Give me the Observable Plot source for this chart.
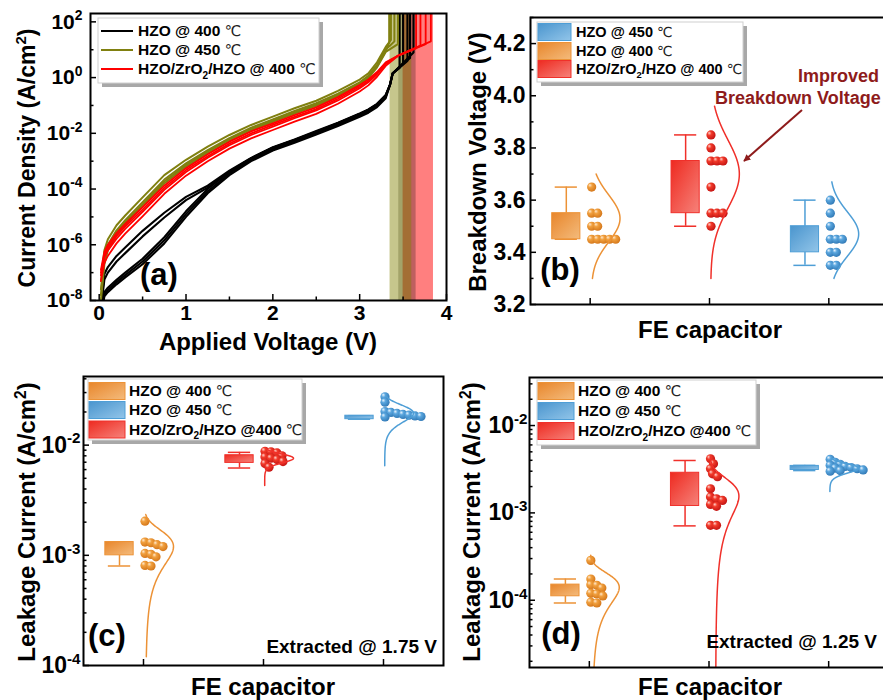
<!DOCTYPE html>
<html><head><meta charset="utf-8">
<script src="https://cdn.jsdelivr.net/npm/d3@7"></script>
<script src="https://cdn.jsdelivr.net/npm/@observablehq/plot@0.6"></script>
<style>
html,body{margin:0;padding:0;background:#fff;overflow:hidden}
#fig{position:relative;width:883px;height:700px;overflow:hidden;background:#fff}
#fig > svg{position:absolute}
</style></head><body><div id="fig"></div>
<script>
const FONT = '"Liberation Sans", Arial, Helvetica, sans-serif';

// ================= DATA =================
// (a) J–V curves: log10(J [A/cm²]) on a common voltage grid
const voltGrid = [0.02, 0.06, 0.1, 0.2, 0.3, 0.5, 0.75, 1.0, 1.25, 1.5, 1.75, 2.0, 2.25, 2.5, 2.75, 3.0, 3.1, 3.2, 3.3];
const hzo400LogJ = [
  [-8.6, -7.85, -7.7, -7.42, -7.17, -6.7, -5.95, -5.0, -4.15, -3.5, -3.0, -2.62, -2.34, -2.04, -1.74, -1.41, -1.26, -1.06, -0.74],
  [-8.55, -7.78, -7.62, -7.34, -7.09, -6.6, -5.84, -4.9, -4.08, -3.44, -2.95, -2.57, -2.29, -1.99, -1.69, -1.36, -1.21, -1.01, -0.69],
  [-8.5, -7.7, -7.54, -7.26, -7.0, -6.5, -5.73, -4.8, -4.0, -3.38, -2.9, -2.52, -2.24, -1.94, -1.64, -1.31, -1.16, -0.96, -0.64],
  [-8.3, -7.25, -7.0, -6.6, -6.3, -5.7, -5.02, -4.4, -3.95, -3.38, -2.9, -2.52, -2.24, -1.94, -1.64, -1.31, -1.16, -0.96, -0.64],
  [-8.2, -7.05, -6.8, -6.4, -6.1, -5.5, -4.85, -4.28, -3.88, -3.34, -2.88, -2.5, -2.22, -1.92, -1.62, -1.29, -1.14, -0.94, -0.62]
];
const hzo400TailV = [3.35, 3.38];
const hzo400TailLogJ = [-0.25, 0.15];
const hzo400BdV = [3.62, 3.58, 3.46, 3.55, 3.50];
const hzo400BdLogJ = [0.9, 0.7, 0.35, 0.6, 0.5];

const hzo450LogJ = [
  [-7.3, -6.2, -5.8, -5.3, -4.95, -4.3, -3.5, -2.95, -2.48, -2.06, -1.7, -1.4, -1.1, -0.83, -0.48, -0.07, 0.15, 0.55, 1.1],
  [-7.6, -6.45, -6.0, -5.48, -5.12, -4.47, -3.66, -3.08, -2.6, -2.17, -1.8, -1.5, -1.2, -0.92, -0.58, -0.17, 0.06, 0.45, 1.0],
  [-8.0, -6.7, -6.2, -5.65, -5.28, -4.62, -3.8, -3.2, -2.72, -2.28, -1.9, -1.59, -1.29, -1.01, -0.67, -0.26, -0.02, 0.37, 0.92],
  [-7.8, -6.55, -6.1, -5.56, -5.2, -4.55, -3.73, -3.14, -2.66, -2.22, -1.85, -1.55, -1.25, -0.97, -0.63, -0.22, 0.02, 0.41, 0.96]
];
const hzo450TailV = [];
const hzo450TailLogJ = [];
const hzo450BdV = [3.36, 3.40, 3.44, 3.34];
const hzo450BdLogJ = [1.35, 1.3, 1.2, 1.25];

const slLogJ = [
  [-6.9, -6.25, -6.0, -5.58, -5.25, -4.65, -3.88, -3.25, -2.75, -2.3, -1.93, -1.64, -1.35, -1.07, -0.7, -0.27, -0.07, 0.2, 0.55],
  [-7.1, -6.45, -6.2, -5.78, -5.43, -4.82, -4.03, -3.39, -2.88, -2.43, -2.06, -1.76, -1.46, -1.18, -0.82, -0.38, -0.17, 0.12, 0.48],
  [-7.3, -6.65, -6.4, -5.95, -5.6, -4.98, -4.17, -3.52, -3.0, -2.55, -2.18, -1.88, -1.58, -1.3, -0.94, -0.5, -0.28, 0.03, 0.42],
  [-7.0, -6.35, -6.1, -5.68, -5.34, -4.74, -3.96, -3.32, -2.82, -2.37, -2.0, -1.7, -1.41, -1.13, -0.76, -0.33, -0.12, 0.16, 0.51]
];
const slTailV = [3.45];
const slTailLogJ = [0.8];
const slBdV = [3.82, 3.76, 3.65, 3.70];
const slBdLogJ = [1.3, 1.2, 1.05, 1.15];

const ivXTicks = [0, 1, 2, 3, 4];
const ivXMinor = [0.5, 1.5, 2.5, 3.5];
const ivYTicks = [1e-8, 1e-6, 1e-4, 1e-2, 1, 1e2];
const ivYMinor = [1e-7, 1e-5, 1e-3, 1e-1, 1e1];

// (b) breakdown voltage (V) per device
const bdHZO400 = [3.65, 3.55, 3.55, 3.50, 3.50, 3.45, 3.45, 3.45, 3.45, 3.45];
const bdSL400  = [3.85, 3.80, 3.75, 3.75, 3.75, 3.65, 3.55, 3.55, 3.55, 3.50];
const bdHZO450 = [3.60, 3.55, 3.50, 3.45, 3.45, 3.45, 3.40, 3.40, 3.35, 3.35];
const bdQ1 = [3.45, 3.55, 3.40], bdQ3 = [3.55, 3.75, 3.50], bdLo = [3.45, 3.50, 3.35], bdHi = [3.65, 3.85, 3.60];
const bdFitMean = [3.53, 3.70, 3.47], bdFitSd = [0.09, 0.13, 0.085];
const bdFitFrom = [3.30, 3.30, 3.30], bdFitTo = [3.70, 3.96, 3.67];
const bdYTicks = [3.2, 3.4, 3.6, 3.8, 4.0, 4.2];
const bdYMinor = [3.3, 3.5, 3.7, 3.9, 4.1, 4.3];

// (c) leakage current @ 1.75 V (A/cm²)
const lk175HZO400 = [2.04e-3, 1.32e-3, 1.30e-3, 1.25e-3, 1.20e-3, 1.04e-3, 1.02e-3, 0.97e-3, 0.81e-3, 0.80e-3];
const lk175SL400  = [8.8e-3, 8.7e-3, 8.5e-3, 8.0e-3, 7.8e-3, 7.6e-3, 7.4e-3, 7.1e-3, 6.8e-3, 6.3e-3];
const lk175HZO450 = [2.75e-2, 2.45e-2, 2.02e-2, 1.98e-2, 1.94e-2, 1.9e-2, 1.87e-2, 1.84e-2, 1.82e-2, 1.8e-2];
const lk175Q1 = [1.0e-3, 6.9e-3, 1.72e-2], lk175Q3 = [1.32e-3, 8.1e-3, 1.85e-2];
const lk175Lo = [0.8e-3, 6.2e-3, 1.72e-2], lk175Hi = [1.32e-3, 8.6e-3, 1.85e-2];
const lk175FitMean = [1.2e-3, 7.6e-3, 1.95e-2], lk175FitSd = [0.45e-3, 0.7e-3, 0.35e-2];
const lk175FitFrom = [1.2e-4, 4.3e-3, 6.5e-3], lk175FitTo = [2.35e-3, 9.2e-3, 2.8e-2];

// (d) leakage current @ 1.25 V (A/cm²)
const lk125HZO400 = [2.86e-4, 1.75e-4, 1.50e-4, 1.48e-4, 1.38e-4, 1.20e-4, 1.18e-4, 1.12e-4, 0.95e-4, 0.93e-4];
const lk125SL400  = [4.16e-3, 3.65e-3, 3.2e-3, 2.8e-3, 2.6e-3, 1.89e-3, 1.52e-3, 1.45e-3, 1.39e-3, 1.25e-3, 1.19e-3, 0.72e-3, 0.72e-3];
const lk125HZO450 = [4.1e-3, 3.8e-3, 3.6e-3, 3.5e-3, 3.4e-3, 3.3e-3, 3.25e-3, 3.2e-3, 3.1e-3, 3.05e-3, 3.0e-3];
const lk125Q1 = [1.11e-4, 1.2e-3, 3.1e-3], lk125Q3 = [1.51e-4, 2.88e-3, 3.45e-3];
const lk125Lo = [0.93e-4, 0.71e-3, 3.05e-3], lk125Hi = [1.75e-4, 3.98e-3, 3.5e-3];
const lk125FitMean = [1.4e-4, 1.55e-3, 3.25e-3], lk125FitSd = [0.6e-4, 0.85e-3, 0.4e-3];
const lk125FitFrom = [1e-5, 1e-5, 1.76e-3], lk125FitTo = [3.27e-4, 4.4e-3, 4.2e-3];

const lkYTicks = [1e-4, 1e-3, 1e-2];
const lkYMinorC = [2e-4,3e-4,4e-4,5e-4,6e-4,7e-4,8e-4,9e-4,2e-3,3e-3,4e-3,5e-3,6e-3,7e-3,8e-3,9e-3,2e-2,3e-2,4e-2];
const lkYMinorD = [2e-5,3e-5,4e-5,5e-5,6e-5,7e-5,8e-5,9e-5,2e-4,3e-4,4e-4,5e-4,6e-4,7e-4,8e-4,9e-4,2e-3,3e-3,4e-3,5e-3,6e-3,7e-3,8e-3,9e-3,2e-2,3e-2];
const categories = [1, 2, 3];

// ================= STYLE =================
const COL = {
  o: {line: "#EC9236", box: "url(#gBoxO)", ball: "url(#gBallO)"},
  r: {line: "#F0302A", box: "url(#gBoxR)", ball: "url(#gBallR)"},
  b: {line: "#4E9ED6", box: "url(#gBoxB)", ball: "url(#gBallB)"}
};
const TOP_LOG = 2.6;
const fig = document.getElementById("fig");

function supLabels(svg) {
  d3.select(svg).selectAll("text").each(function () {
    const m = /^10\^(-?\d+)$/.exec(this.textContent);
    if (m) {
      const el = d3.select(this); el.text(null);
      el.append("tspan").text("10");
      el.append("tspan").attr("dy", "-0.6em").attr("font-size", "0.66em").text(m[1]);
    }
  });
}
function place(svg, left, top) {
  svg.style.position = "absolute"; svg.style.left = left + "px"; svg.style.top = top + "px";
  supLabels(svg); fig.appendChild(svg);
}
const logFmt = d => "10^" + Math.round(Math.log10(d));

// ================= PANEL (a) =================
const ivGroups = [
  {color: "#000000", width: 2.1, curves: hzo400LogJ, tailV: hzo400TailV, tailLogJ: hzo400TailLogJ, bd: hzo400BdV, bdLogJ: hzo400BdLogJ},
  {color: "#808010", width: 2.0, curves: hzo450LogJ, tailV: hzo450TailV, tailLogJ: hzo450TailLogJ, bd: hzo450BdV, bdLogJ: hzo450BdLogJ},
  {color: "#FF0000", width: 1.8, curves: slLogJ, tailV: slTailV, tailLogJ: slTailLogJ, bd: slBdV, bdLogJ: slBdLogJ}
];
const ivRows = [];
ivGroups.forEach((g, gi) => g.curves.forEach((arr, ci) => {
  const id = gi + "-" + ci;
  arr.forEach((lj, k) => ivRows.push({id, g: gi, V: voltGrid[k], J: 10 ** lj}));
  g.tailV.forEach((v, k) => ivRows.push({id, g: gi, V: v, J: 10 ** g.tailLogJ[k]}));
  ivRows.push({id, g: gi, V: g.bd[ci], J: 10 ** g.bdLogJ[ci]});
  ivRows.push({id, g: gi, V: g.bd[ci], J: 10 ** TOP_LOG});
}));
const bands = [
  {lo: d3.min(bdSL400), hi: d3.max(bdSL400), fill: "#FF0000", op: 0.5},
  {lo: d3.min(bdHZO400), hi: d3.max(bdHZO400), fill: "#000000", op: 0.25},
  {lo: d3.min(bdHZO450), hi: d3.max(bdHZO450), fill: "#808000", op: 0.45}
];
const pa = Plot.plot({
  width: 450, height: 330, marginLeft: 90, marginRight: 4, marginTop: 13, marginBottom: 30,
  style: {background: "transparent", fontFamily: FONT, fontSize: "21px", fontWeight: "bold", color: "#000", overflow: "visible"},
  x: {domain: [-0.1, 4], axis: null},
  y: {type: "log", domain: [1e-8, 10 ** 2.3], axis: null},
  marks: [
    ...bands.map(b => Plot.rect([b], {x1: d => d.lo, x2: d => d.hi, fill: b.fill, fillOpacity: b.op})),
    ...ivGroups.map((g, gi) => Plot.line(ivRows.filter(r => r.g === gi), {x: "V", y: "J", z: "id", stroke: g.color, strokeWidth: g.width, clip: true})),
    Plot.axisX(ivXTicks, {anchor: "bottom", tickSize: -6, tickPadding: 11, strokeWidth: 1.5, label: null}),
    Plot.axisX(ivXMinor, {anchor: "bottom", tickSize: -3.5, tickFormat: () => "", strokeWidth: 1.5, label: null}),
    Plot.axisY(ivYTicks, {anchor: "left", tickSize: -6, tickPadding: 14, tickFormat: logFmt, strokeWidth: 1.5, label: null}),
    Plot.axisY(ivYMinor, {anchor: "left", tickSize: -3.5, tickFormat: () => "", strokeWidth: 1.5, label: null}),
    Plot.frame({stroke: "#000", strokeWidth: 2})
  ]
});
place(pa, 0, 0);

// ================= GROUP PANELS (b,c,d) =================
function swarm(values, yPix, minD) {
  const pts = values.map(v => ({v, py: yPix(v)})).sort((a, b) => a.py - b.py);
  const placed = [];
  for (const p of pts) {
    let k = 0;
    while (placed.some(q => (q.k - k) ** 2 + (q.py - p.py) ** 2 < minD * minD)) k++;
    p.k = k; placed.push(p);
  }
  return pts;
}
function groupPanel(cfg) {
  const {left, top, width, height, mL, mR, mT, mB, yType, yDomain, yTicks, yMinor, fmt, groups, fontSize, tickPad, minD} = cfg;
  const fw = width - mL - mR, fh = height - mT - mB;
  const yPix = (yType === "log" ? d3.scaleLog() : d3.scaleLinear()).domain(yDomain).range([fh, 0]);
  const ppu = fw / 3;
  const marks = [];
  groups.forEach((g, i) => {
    const c = categories[i], st = COL[g.key], bx = c - 0.2;
    if (g.lo < g.q1) marks.push(Plot.ruleX([g], {x: () => bx, y1: () => g.lo, y2: () => g.q1, stroke: st.line, strokeWidth: 1.5}));
    if (g.hi > g.q3) marks.push(Plot.ruleX([g], {x: () => bx, y1: () => g.q3, y2: () => g.hi, stroke: st.line, strokeWidth: 1.5}));
    marks.push(Plot.ruleY([g.lo, g.hi], {y: d => d, x1: () => bx - 0.093, x2: () => bx + 0.093, stroke: st.line, strokeWidth: 1.5}));
    marks.push(Plot.rect([g], {x1: () => bx - 0.118, x2: () => bx + 0.118, y1: () => g.q1, y2: () => g.q3, fill: st.box, stroke: st.line, strokeWidth: 1}));
    const sw = swarm(g.values, yPix, minD);
    marks.push(Plot.dot(sw, {x: d => c + (1.5 + d.k) / ppu, y: "v", r: 4.6, fill: st.ball}));
    const n = 300, pts = [];
    const a = yType === "log" ? Math.log10(g.from) : g.from, b = yType === "log" ? Math.log10(g.to) : g.to;
    for (let j = 0; j <= n; j++) {
      const t = a + (b - a) * j / n, y = yType === "log" ? 10 ** t : t;
      pts.push({x: c + 0.01 + 0.24 * Math.exp(-0.5 * ((y - g.mean) / g.sd) ** 2), y});
    }
    marks.push(Plot.line(pts, {x: "x", y: "y", stroke: st.line, strokeWidth: 1.5, clip: true}));
  });
  const p = Plot.plot({
    width, height, marginLeft: mL, marginRight: mR, marginTop: mT, marginBottom: mB,
    style: {background: "transparent", fontFamily: FONT, fontSize: fontSize + "px", fontWeight: "bold", color: "#000", overflow: "visible"},
    x: {domain: [0.5, 3.5], axis: null},
    y: {type: yType, domain: yDomain, axis: null},
    marks: [
      ...marks,
      Plot.axisX(categories, {anchor: "bottom", tickSize: -6, tickFormat: () => "", strokeWidth: 1.5, label: null}),
      Plot.axisY(yTicks, {anchor: "left", tickSize: -6, tickPadding: tickPad, tickFormat: fmt, strokeWidth: 1.5, label: null}),
      Plot.axisY(yMinor, {anchor: "left", tickSize: -3.5, tickFormat: () => "", strokeWidth: 1.5, label: null}),
      Plot.frame({stroke: "#000", strokeWidth: 2})
    ]
  });
  place(p, left, top);
}
function mkGroups(keys, vals, q1, q3, lo, hi, mean, sd, from, to) {
  return keys.map((key, i) => ({key, values: vals[i], q1: q1[i], q3: q3[i], lo: lo[i], hi: hi[i], mean: mean[i], sd: sd[i], from: from[i], to: to[i]}));
}
groupPanel({left: 440, top: 0, width: 450, height: 344, mL: 90, mR: 2, mT: 17, mB: 40, minD: 6,
  yType: "linear", yDomain: [3.2, 4.3], yTicks: bdYTicks, yMinor: bdYMinor, fmt: d => d.toFixed(1), fontSize: 23, tickPad: 11,
  groups: mkGroups(["o", "r", "b"], [bdHZO400, bdSL400, bdHZO450], bdQ1, bdQ3, bdLo, bdHi, bdFitMean, bdFitSd, bdFitFrom, bdFitTo)});
groupPanel({left: 0, top: 350, width: 447, height: 345, mL: 83, mR: 4, mT: 26, mB: 30, minD: 5.4,
  yType: "log", yDomain: [1e-4, 10 ** -1.377], yTicks: lkYTicks, yMinor: lkYMinorC, fmt: logFmt, fontSize: 23, tickPad: 9,
  groups: mkGroups(["o", "r", "b"], [lk175HZO400, lk175SL400, lk175HZO450], lk175Q1, lk175Q3, lk175Lo, lk175Hi, lk175FitMean, lk175FitSd, lk175FitFrom, lk175FitTo)});
groupPanel({left: 440, top: 350, width: 450, height: 345, mL: 89, mR: 2, mT: 27, mB: 28, minD: 5.4,
  yType: "log", yDomain: [10 ** -4.77, 10 ** -1.45], yTicks: lkYTicks, yMinor: lkYMinorD, fmt: logFmt, fontSize: 23, tickPad: 8,
  groups: mkGroups(["o", "r", "b"], [lk125HZO400, lk125SL400, lk125HZO450], lk125Q1, lk125Q3, lk125Lo, lk125Hi, lk125FitMean, lk125FitSd, lk125FitFrom, lk125FitTo)});

// ================= OVERLAY (defs, titles, legends, annotations) =================
const ov = d3.select(fig).append("svg").attr("width", 883).attr("height", 700)
  .style("left", "0px").style("top", "0px").style("pointer-events", "none").attr("font-family", FONT);
const defs = ov.append("defs");
function lin(id, c0, c1) {
  const g = defs.append("linearGradient").attr("id", id).attr("x1", 0).attr("y1", 0).attr("x2", 1).attr("y2", 1);
  g.append("stop").attr("offset", 0).attr("stop-color", c0);
  g.append("stop").attr("offset", 1).attr("stop-color", c1);
}
function rad(id, hi, mid, lo) {
  const g = defs.append("radialGradient").attr("id", id).attr("cx", 0.4).attr("cy", 0.4).attr("r", 0.65).attr("fx", 0.3).attr("fy", 0.28);
  g.append("stop").attr("offset", 0).attr("stop-color", hi);
  g.append("stop").attr("offset", 0.35).attr("stop-color", mid);
  g.append("stop").attr("offset", 1).attr("stop-color", lo);
}
lin("gBoxO", "#E8862B", "#F4BB7C"); lin("gBoxR", "#EE2A20", "#F6827A"); lin("gBoxB", "#4A95CE", "#92C5E9");
rad("gBallO", "#FFE9CF", "#F1A03E", "#D27418"); rad("gBallR", "#FFD2CC", "#F23A2A", "#C01212"); rad("gBallB", "#E8F4FF", "#5AA6DE", "#2F77B4");
const mk = defs.append("marker").attr("id", "arrowHead").attr("viewBox", "0 0 10 10").attr("refX", 9).attr("refY", 5)
  .attr("markerWidth", 7).attr("markerHeight", 7).attr("markerUnits", "userSpaceOnUse").attr("orient", "auto");
mk.append("path").attr("d", "M0,0L10,5L0,10Z").attr("fill", "#8E1B1B");

function rich(x, cy, parts, {size, anchor = "middle", rotate = 0, weight = "bold", fill = "#000"}) {
  const y = cy + 0.35 * size;
  const t = ov.append("text").attr("x", x).attr("y", y).attr("font-size", size).attr("font-weight", weight)
    .attr("text-anchor", anchor).attr("fill", fill);
  if (rotate) t.attr("transform", `rotate(${rotate},${x},${cy})`);
  let shift = 0;
  for (const p of parts) {
    const s = t.append("tspan").text(p.t);
    let target = 0;
    if (p.sup) { s.attr("font-size", size * 0.65); target = -0.4 * size; }
    else if (p.sub) { s.attr("font-size", size * 0.65); target = 0.28 * size; }
    if (p.deg) s.attr("font-weight", "normal").attr("font-family", '"DejaVu Sans", "Noto Sans CJK SC", sans-serif').attr("fill", "#222").attr("font-size", size * 0.95);
    const dy = target - shift;
    if (dy) s.attr("dy", dy);
    shift = target;
  }
  return t;
}
const L400 = [{t: "HZO @ 400 "}, {t: "℃", deg: true}];
const L450 = [{t: "HZO @ 450 "}, {t: "℃", deg: true}];
const LSL = [{t: "HZO/ZrO"}, {t: "2", sub: true}, {t: "/HZO @ 400 "}, {t: "℃", deg: true}];
const LSL2 = [{t: "HZO/ZrO"}, {t: "2", sub: true}, {t: "/HZO @400 "}, {t: "℃", deg: true}];

function legendBox(x, y, w, h) {
  ov.append("rect").attr("x", x + 4).attr("y", y + 4).attr("width", w).attr("height", h).attr("fill", "#a8a8a8");
  ov.append("rect").attr("x", x).attr("y", y).attr("width", w).attr("height", h).attr("fill", "#fff").attr("stroke", "#cfcfcf");
}
function legend(box, items, sw, textX, size) {
  legendBox(...box);
  for (const it of items) {
    if (it.line) ov.append("line").attr("x1", sw[0]).attr("x2", sw[1]).attr("y1", it.cy).attr("y2", it.cy).attr("stroke", it.line).attr("stroke-width", 2);
    else ov.append("rect").attr("x", sw[0]).attr("width", sw[1] - sw[0]).attr("y", it.cy - 8.5).attr("height", 17)
      .attr("fill", COL[it.key].box).attr("stroke", COL[it.key].line).attr("stroke-width", 1);
    rich(textX, it.cy, it.parts, {size, anchor: "start"});
  }
}
// (a)
legend([98, 18, 221, 65], [{line: "#000", cy: 31, parts: L400}, {line: "#808010", cy: 50, parts: L450}, {line: "#FF0000", cy: 69, parts: LSL}], [101, 133], 138, 15.5);
rich(27, 158, [{t: "Current Density (A/cm"}, {t: "2", sup: true}, {t: ")"}], {size: 23, rotate: -90});
rich(268, 342, [{t: "Applied Voltage (V)"}], {size: 24});
rich(159, 274, [{t: "(a)"}], {size: 31});
// (b)
legend([537, 22, 206, 60], [{key: "b", cy: 32, parts: L450}, {key: "o", cy: 51, parts: L400}, {key: "r", cy: 69, parts: LSL}], [538, 571], 576, 14.5);
rich(478, 162, [{t: "Breakdown Voltage (V)"}], {size: 24, rotate: -90});
rich(710, 330, [{t: "FE capacitor"}], {size: 24});
rich(560, 269, [{t: "(b)"}], {size: 31});
rich(879, 76, [{t: "Improved"}], {size: 18, anchor: "end", fill: "#8E1B1B"});
rich(715, 98, [{t: "Breakdown Voltage"}], {size: 18, anchor: "start", fill: "#8E1B1B"});
ov.append("line").attr("x1", 802).attr("y1", 110).attr("x2", 744).attr("y2", 161).attr("stroke", "#8E1B1B").attr("stroke-width", 2).attr("marker-end", "url(#arrowHead)");
// (c)
legend([88, 379, 214, 61], [{key: "o", cy: 391, parts: L400}, {key: "b", cy: 410, parts: L450}, {key: "r", cy: 429.5, parts: LSL2}], [89, 125], 129, 15.5);
rich(27, 522, [{t: "Leakage Current (A/cm"}, {t: "2", sup: true}, {t: ")"}], {size: 24, rotate: -90});
rich(263, 687, [{t: "FE capacitor"}], {size: 24});
rich(107, 635, [{t: "(c)"}], {size: 31});
rich(437, 646, [{t: "Extracted @ 1.75 V"}], {size: 19, anchor: "end"});
// (d)
legend([537, 380, 219, 65], [{key: "o", cy: 391, parts: L400}, {key: "b", cy: 411, parts: L450}, {key: "r", cy: 431, parts: LSL2}], [538, 574], 578, 15.5);
rich(472, 522, [{t: "Leakage Current (A/cm"}, {t: "2", sup: true}, {t: ")"}], {size: 24, rotate: -90});
rich(710, 687, [{t: "FE capacitor"}], {size: 24});
rich(561, 633, [{t: "(d)"}], {size: 31});
rich(877, 641, [{t: "Extracted @ 1.25 V"}], {size: 19, anchor: "end"});
</script></body></html>
